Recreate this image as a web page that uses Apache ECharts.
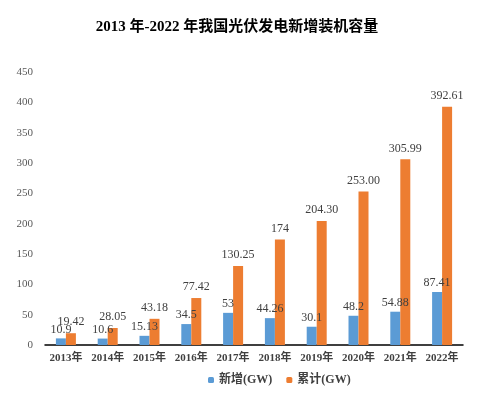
<!DOCTYPE html>
<html>
<head>
<meta charset="utf-8">
<script src="https://cdn.jsdelivr.net/npm/echarts@6/dist/echarts.min.js"></script>
<style>html,body{margin:0;padding:0;background:#fff}#main{width:480px;height:397px}</style>
</head>
<body>
<div id="main"></div>
<script>
var years = ['2013年','2014年','2015年','2016年','2017年','2018年','2019年','2020年','2021年','2022年'];
var xinzeng = [10.9, 10.6, 15.13, 34.5, 53, 44.26, 30.1, 48.2, 54.88, 87.41];
var leiji = [19.42, 28.05, 43.18, 77.42, 130.25, 174, 204.30, 253.00, 305.99, 392.61];
// labels as printed in the source (keeps trailing zeros)
var leijiText = ['19.42','28.05','43.18','77.42','130.25','174','204.30','253.00','305.99','392.61'];

var serif = '"Liberation Serif", "Noto Sans CJK SC", serif';
var myChart = echarts.init(document.getElementById('main'));
myChart.setOption({
  animation: false,
  title: {
    text: '2013 年-2022 年我国光伏发电新增装机容量',
    left: 232, top: 15, textAlign: 'center',
    textStyle: {fontFamily: serif, fontSize: 15, fontWeight: 'bold', color: '#000'}
  },
  legend: {
    bottom: 6, left: 203,
    itemWidth: 6, itemHeight: 6, itemGap: 14,
    textStyle: {fontFamily: serif, fontSize: 12, color: '#404040', fontWeight: 'bold'},
    data: ['新增(GW)', '累计(GW)']
  },
  grid: {left: 45, right: 17, top: 72, bottom: 52},
  xAxis: {
    type: 'category', data: years,
    axisLine: {lineStyle: {color: '#000', width: 1.5}},
    axisTick: {show: false},
    axisLabel: {interval: 0, fontFamily: serif, fontSize: 11, fontWeight: 'bold', color: '#404040', margin: 8}
  },
  yAxis: {
    type: 'value', min: 0, max: 450, interval: 50,
    splitLine: {show: false},
    axisLine: {show: false},
    axisLabel: {fontFamily: serif, fontSize: 11, color: '#595959', margin: 12}
  },
  series: [{
    name: '新增(GW)', type: 'bar', data: xinzeng,
    barWidth: 10, barGap: '0%',
    itemStyle: {color: '#5B9BD5'},
    label: {show: true, position: 'top', fontFamily: serif, fontSize: 12, color: '#404040', distance: 3}
  }, {
    name: '累计(GW)', type: 'bar', data: leiji,
    barWidth: 10,
    itemStyle: {color: '#ED7D31'},
    label: {show: true, position: 'top', fontFamily: serif, fontSize: 12, color: '#404040', distance: 5,
      formatter: function (p) { return leijiText[p.dataIndex]; }}
  }]
});
</script>
</body>
</html>
